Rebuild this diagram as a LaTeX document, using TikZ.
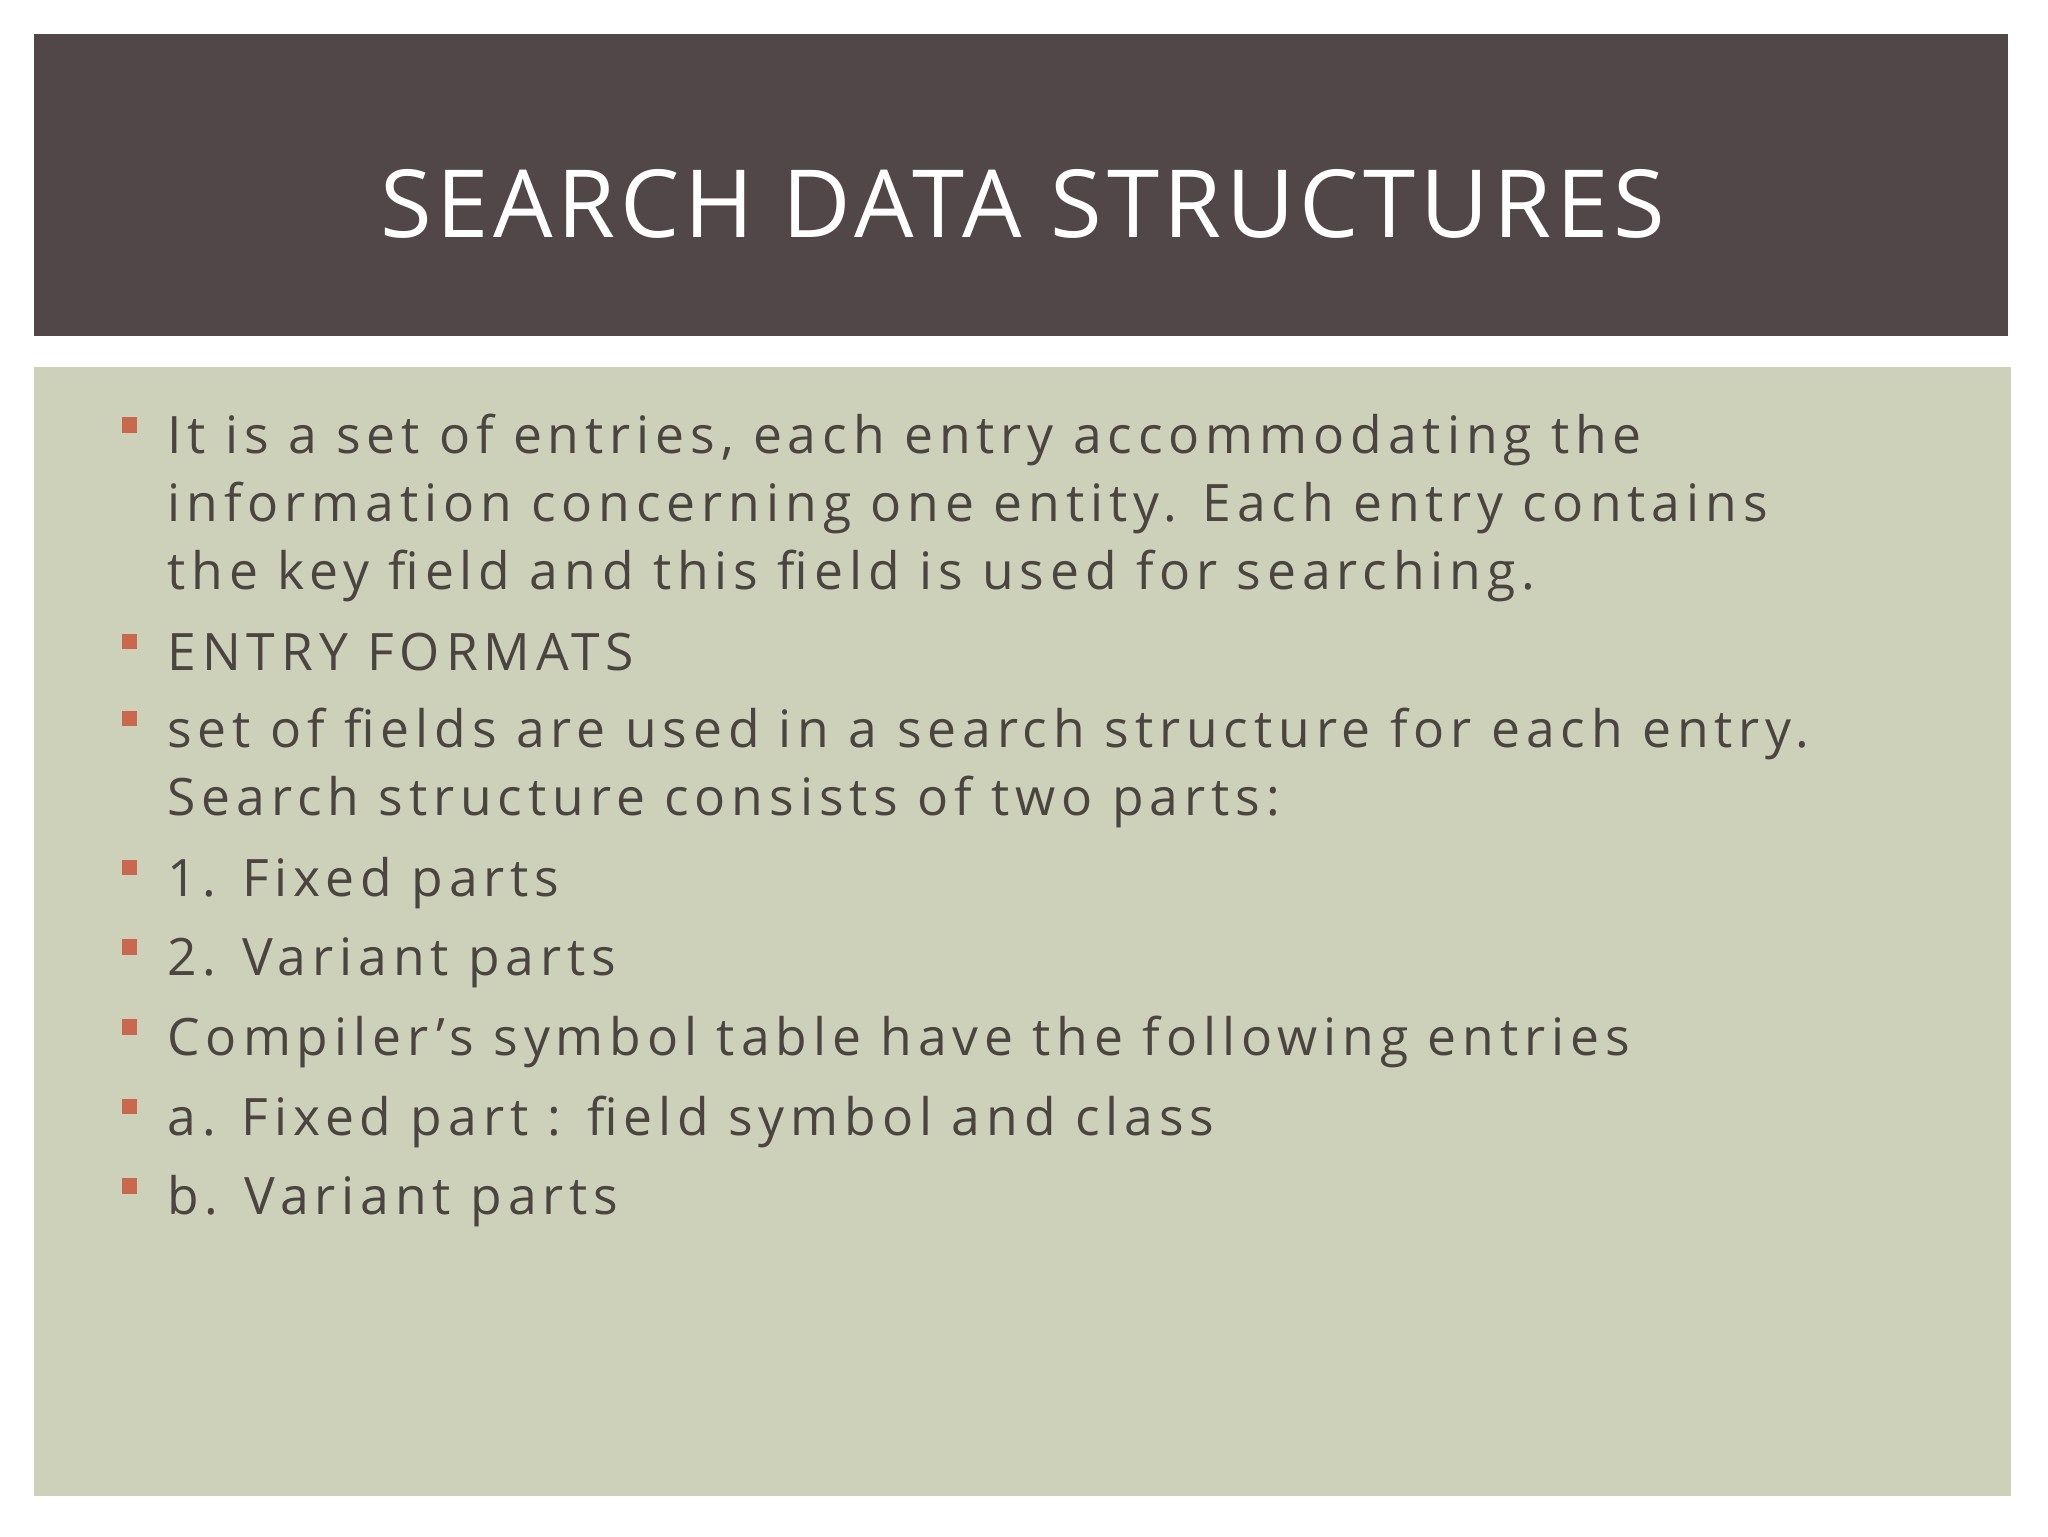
\documentclass[tikz,border=0pt]{standalone}
\usepackage{fontspec}
\setmainfont{Open Sans}
\newfontfamily\titlefont[LetterSpace=5]{Open Sans}
\newfontfamily\bodyfont[LetterSpace=11.5]{Open Sans}
\definecolor{hdr}{HTML}{524748}
\definecolor{bg}{HTML}{CDD1BA}
\definecolor{txt}{HTML}{4A4540}
\definecolor{bul}{HTML}{C8684E}
\begin{document}
\begin{tikzpicture}[x=1pt,y=-1pt,
  item/.style={anchor=base west,inner sep=0pt,text=txt,font=\bodyfont\fontsize{39.5}{52}\selectfont},
  sq/.style={fill=bul,minimum size=12pt,inner sep=0pt,anchor=north west}]
\useasboundingbox (0,0) rectangle (1568,1176);
\fill[white] (0,0) rectangle (1568,1176);
\fill[hdr] (26,26) rectangle (1537,257);
\fill[bg] (26,281) rectangle (1540,1145);
\node[text=white,font=\titlefont\fontsize{72}{80}\selectfont,anchor=base] (title) at (783,182) {SEARCH DATA STRUCTURES};
\foreach \n/\y in {1/347,2/513,3/572,4/686,5/747,6/808,7/869,8/930}{
  \node[sq] (b\n) at (93,\y-28) {};
}
\node[item] (t1a) at (128,347) {It is a set of entries, each entry accommodating the};
\node[item] (t1b) at (128,399) {information concerning one entity. Each entry contains};
\node[item] (t1c) at (128,451) {the key field and this field is used for searching.};
\node[item] (t2) at (128,513) {ENTRY FORMATS};
\node[item] (t3a) at (128,572) {set of fields are used in a search structure for each entry.};
\node[item] (t3b) at (128,624) {Search structure consists of two parts:};
\node[item] (t4) at (128,686) {1. Fixed parts};
\node[item] (t5) at (128,747) {2. Variant parts};
\node[item] (t6) at (128,808) {Compiler’s symbol table have the following entries};
\node[item] (t7) at (128,869) {a. Fixed part : field symbol and class};
\node[item] (t8) at (128,930) {b. Variant parts};
\end{tikzpicture}
\end{document}
